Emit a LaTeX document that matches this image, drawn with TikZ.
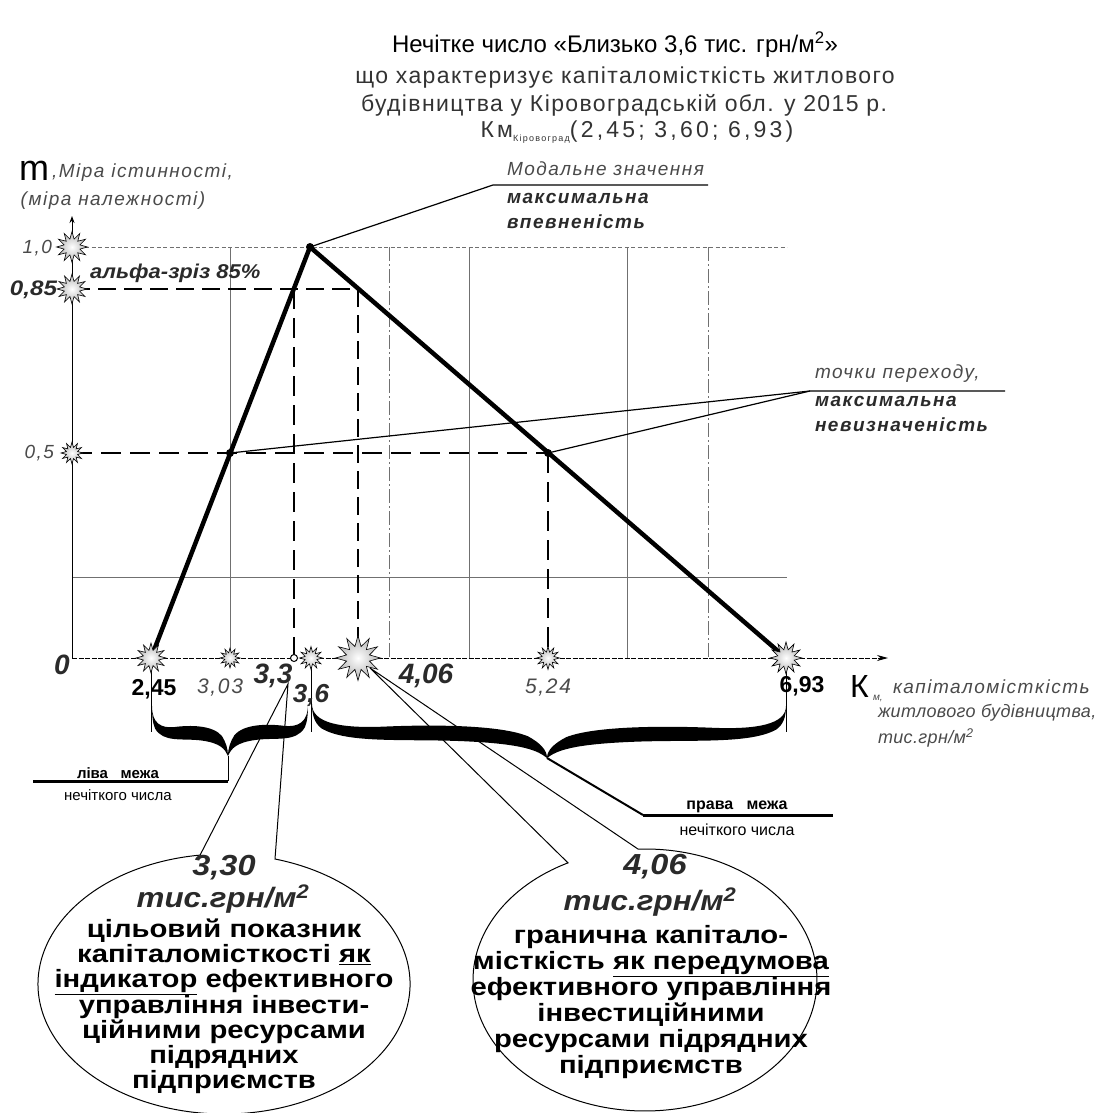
\documentclass[tikz,border=0pt]{standalone}
\usepackage{fontspec}
\setmainfont{Liberation Sans}
\usetikzlibrary{shapes.geometric,arrows.meta}
\definecolor{gtext}{HTML}{4A4A4A}
\definecolor{gridc}{HTML}{707070}
\definecolor{bitc}{HTML}{2A2A2A}
\newcommand\setfs[1]{\fontsize{#1}{#1}\selectfont}
\newcommand\halfbrace{%
  \fill (0,0) .. controls (0,0.35) and (0.12,0.45) .. (0.3,0.42)
    .. controls (0.5,0.38) and (0.8,0.38) .. (0.92,0.6)
    .. controls (0.97,0.72) and (1,0.85) .. (1,1)
    .. controls (0.96,0.86) and (0.9,0.74) .. (0.65,0.69)
    .. controls (0.4,0.64) and (0.15,0.74) .. (0.04,0.45)
    .. controls (0.01,0.35) and (0,0.2) .. (0,0) -- cycle;}
\begin{document}
\begin{tikzpicture}[x=1pt,y=-1pt,
  lbl/.style={inner sep=0pt, outer sep=0pt},
  gi/.style={lbl, text=gtext, font=\itshape\setfs{#1}\addfontfeature{LetterSpace=8}},
  bi/.style={lbl, text=bitc, font=\bfseries\itshape\setfs{#1}},
  bix/.style={lbl, text=bitc, font=\bfseries\itshape\setfs{#1}\addfontfeature{FakeStretch=1.12}},
  bis/.style={lbl, text=bitc, font=\bfseries\itshape\setfs{#1}\addfontfeature{LetterSpace=8}},
  gridl/.style={draw=gridc, line width=0.9pt},
  griddd/.style={gridl, dash pattern=on 14pt off 3pt on 2pt off 3pt},
  tri/.style={line width=4.5pt, line cap=round, line join=round},
  dashA/.style={line width=2.8pt, dash pattern=on 20pt off 9pt},
  dashB/.style={line width=1.8pt, dash pattern=on 18pt off 8pt},
  lead/.style={line width=1.2pt},
  spark/.style={star, star points=12, star point ratio=1.9, draw=black, line width=0.6pt,
     inner color=white, outer color=gray!60, inner sep=0pt, minimum size=#1},
  spark/.default=22pt,
  dot/.style={circle, fill=black, inner sep=0pt, minimum size=8pt},
  bubble/.style={draw=black, line width=1pt},
  bodyL/.style={lbl, align=center, font=\bfseries\fontsize{25}{25}\selectfont\addfontfeature{FakeStretch=1.17}},
  bodyR/.style={lbl, align=center, font=\bfseries\fontsize{25}{26}\selectfont\addfontfeature{FakeStretch=1.17}},
]
\useasboundingbox (0,0) rectangle (1110,1113);

% ---------- key coordinates ----------
\coordinate (o) at (72,658);
\coordinate (ytop) at (72,216);
\coordinate (xend) at (888,658);
\coordinate (k245) at (151,658);
\coordinate (k303) at (230,658);
\coordinate (k33) at (294,658);
\coordinate (k36) at (311,658);
\coordinate (k406) at (358,658);
\coordinate (k524) at (548,658);
\coordinate (k693) at (786,658);
\coordinate (P) at (310,247);
\coordinate (A05) at (230,453);
\coordinate (B05) at (548,453);
\coordinate (A085) at (294,289);
\coordinate (B085) at (358,289);
\coordinate (y10) at (72,247);
\coordinate (y085) at (72,289);
\coordinate (y05) at (72,453);
\coordinate (g10e) at (787,247);
\coordinate (g02s) at (72,577);
\coordinate (g02e) at (787,577);

% ---------- grid ----------
\draw[gridl] (230,247) -- (230,658);
\draw[griddd] (389,247) -- (389,658);
\draw[gridl] (469,247) -- (469,658);
\draw[gridl] (627,247) -- (627,658);
\draw[griddd] (708,247) -- (708,658);
\draw[gridl] (g02s) -- (g02e);
\draw[gridl, dash pattern=on 4pt off 2.5pt] (y10) -- (g10e);

% ---------- axes ----------
\draw[line width=0.9pt, -{Stealth[length=7pt,width=5pt]}] (o) -- (ytop);
\draw[line width=1pt, dash pattern=on 5pt off 1.5pt, -{Stealth[length=11pt,width=6pt]}] (o) -- (xend);

% ---------- dashed projections ----------
\draw[dashB] (y085) -- (B085);
\draw[dashA] (y05) -- (B05);
\draw[dashA] (A085) -- (k33);
\draw[dashB] (B085) -- (k406);
\draw[dashA] (B05) -- (k524);

% ---------- membership triangle ----------
\draw[tri] (k245) -- (P) -- (k693);

% ---------- leaders ----------
\coordinate (m1) at (493,185);
\coordinate (m2) at (708,185);
\draw[lead] (P) -- (m1) -- (m2);
\coordinate (t1) at (810,391);
\coordinate (t2) at (1005,391);
\draw[lead] (A05) -- (t1) -- (t2);
\draw[lead] (B05) -- (t1);

\node[dot] (dP) at (P) {};
\node[dot] (dA05) at (A05) {};
\node[dot] (dB05) at (B05) {};

% ---------- bracket ticks ----------
\coordinate (e245) at (151,732);
\coordinate (e36) at (311,732);
\coordinate (e693) at (786,732);
\draw[line width=0.9pt] (k245) -- (e245);
\draw[line width=0.9pt] (k36) -- (e36);
\draw[line width=0.9pt] (k693) -- (e693);

% ---------- callout bubbles ----------
\coordinate (lbL) at (200.0,855.1);
\coordinate (lbR) at (275.0,859.0);
\coordinate (apL) at (288,684);
\draw[bubble] (lbR) arc[start angle=285.91, end angle=622.6, x radius=186, y radius=130] -- (apL) -- cycle;
\coordinate (rbL) at (568.0,862.9);
\coordinate (rbR) at (638.1,849.1);
\coordinate (apR) at (370,668);
\draw[bubble] (rbR) arc[start angle=267.7, end angle=603.4, x radius=172, y radius=131] -- (apR) -- cycle;

% ---------- braces ----------
\begin{scope}[shift={(152,706)}, xscale=76, yscale=50] \halfbrace \end{scope}
\begin{scope}[shift={(308,704)}, xscale=-80, yscale=52] \halfbrace \end{scope}
\begin{scope}[shift={(312,704)}, xscale=235, yscale=54] \halfbrace \end{scope}
\begin{scope}[shift={(786,706)}, xscale=-239, yscale=52] \halfbrace \end{scope}

\coordinate (tipL) at (228,756);
\coordinate (bl1) at (228,781);
\coordinate (bl2) at (33,781);
\draw[line width=1pt] (tipL) -- (bl1);
\draw[line width=3pt] (bl1) -- (bl2);
\coordinate (tipR) at (547,758);
\coordinate (br1) at (643,815);
\coordinate (br2) at (833,815);
\draw[line width=2pt] (tipR) -- (br1);
\draw[line width=3pt] (br1) -- (br2);

% ---------- stars ----------
\node[spark=30pt] (s245) at (k245) {};
\node[spark=20pt] (s303) at (k303) {};
\node[circle, draw, line width=1pt, fill=white, inner sep=0pt, minimum size=7pt] (c33) at (k33) {};
\node[spark=23pt] (s36) at (k36) {};
\node[spark=45pt] (s406) at (k406) {};
\node[spark=23pt] (s524) at (k524) {};
\node[spark=32pt] (s693) at (k693) {};
\node[spark=31pt] (sy10) at (y10) {};
\node[spark=30pt] (sy085) at (y085) {};
\node[spark=22pt] (sy05) at (y05) {};

% ---------- titles ----------
\node[lbl, font=\setfs{24}] (title) at (615,45) {Нечітке число «Близько 3,6 тис. грн/м\textsuperscript{2}»};
\node[lbl, text=black!80, font=\setfs{23}\addfontfeature{LetterSpace=6}] (sub1) at (625,78) {що характеризує капіталомісткість житлового};
\node[lbl, text=black!80, font=\setfs{23}\addfontfeature{LetterSpace=6}] (sub2) at (624,105) {будівництва у Кіровоградській обл. у 2015 р.};
\node[lbl, text=black!80, font=\setfs{23}\addfontfeature{LetterSpace=14}] (sub3) at (637,132) {Км\raisebox{-4pt}{\setfs{9}Кіровоград}(2,45; 3,60; 6,93)};

% ---------- axis labels ----------
\node[lbl, font=\setfs{36}, anchor=base west] (mu) at (19,180) {m};
\node[gi=19, anchor=west] (yl1) at (52,173) {,Міра істинності,};
\node[gi=19] (yl2) at (113,201) {(міра належності)};
\node[gi=19, anchor=east] (t10) at (52,248) {1,0};
\node[lbl, text=bitc, font=\bfseries\itshape\setfs{21}\addfontfeature{FakeStretch=1.15}, anchor=east] (t085) at (57,290) {0,85};
\node[lbl, text=bitc, font=\bfseries\itshape\setfs{20}\addfontfeature{FakeStretch=1.1}, anchor=west] (alpha) at (90,273) {альфа-зріз 85\%};
\node[gi=19, anchor=east] (t05) at (54,453) {0,5};

\node[bi=28] (t0) at (62,665) {0};
\node[lbl, font=\bfseries\setfs{23}] (x245) at (154,689) {2,45};
\node[gi=21] (x303) at (220,688) {3,03};
\node[bi=28] (x33) at (273,676) {3,3};
\node[bi=26] (x36) at (311,695) {3,6};
\node[bi=28] (x406) at (426,676) {4,06};
\node[gi=21] (x524) at (548,688) {5,24};
\node[lbl, font=\bfseries\setfs{23}] (x693) at (802,686) {6,93};
\node[lbl, font=\setfs{32}, anchor=base west] (xK) at (850,697) {К};
\node[lbl, text=gtext, font=\itshape\setfs{10}, anchor=base west] (xKs) at (873,700) {м,};
\node[gi=19, anchor=west] (xl1) at (893,687) {капіталомісткість};
\node[lbl, text=gtext, font=\itshape\setfs{18}\addfontfeature{LetterSpace=2}, anchor=west] (xl2) at (878,713) {житлового будівництва,};
\node[lbl, text=gtext, font=\itshape\setfs{18}\addfontfeature{LetterSpace=2}, anchor=west] (xl3) at (878,738) {тис.грн/м\textsuperscript{2}};

% ---------- annotations ----------
\node[gi=19, anchor=west] (mt1) at (507,169) {Модальне значення};
\node[bis=19, anchor=west] (mt2) at (507,198) {максимальна};
\node[bis=19, anchor=west] (mt3) at (507,222) {впевненість};
\node[gi=19, anchor=west] (tt1) at (815,374) {точки переходу,};
\node[bis=19, anchor=west] (tt2) at (815,401) {максимальна};
\node[bis=19, anchor=west] (tt3) at (815,425) {невизначеність};

\node[lbl, font=\bfseries\setfs{15}] (lm1) at (118,773) {ліва\ \ \ межа};
\node[lbl, font=\setfs{15}] (lm2) at (118,795) {нечіткого числа};
\node[lbl, font=\bfseries\setfs{16}] (rm1) at (737,807) {права\ \ \ межа};
\node[lbl, font=\setfs{16}] (rm2) at (737,830) {нечіткого числа};

% ---------- bubble texts ----------
\node[bix=29] (b330) at (224,868) {3,30};
\node[bix=28] (bunitL) at (223,899) {тис.грн/м\textsuperscript{2}};
\node[bodyL, anchor=north] (btxtL) at (224,919) {цільовий показник\\капіталомісткості \underline{як}\\\underline{індикатор} ефективного\\управління інвести-\\ційними ресурсами\\підрядних\\підприємств};
\node[bix=29] (b406) at (655,867) {4,06};
\node[bix=28] (bunitR) at (650,902) {тис.грн/м\textsuperscript{2}};
\node[bodyR, anchor=north] (btxtR) at (651,925) {гранична капітало-\\місткість \underline{як передумова}\\ефективного управління\\інвестиційними\\ресурсами підрядних\\підприємств};
\end{tikzpicture}
\end{document}
